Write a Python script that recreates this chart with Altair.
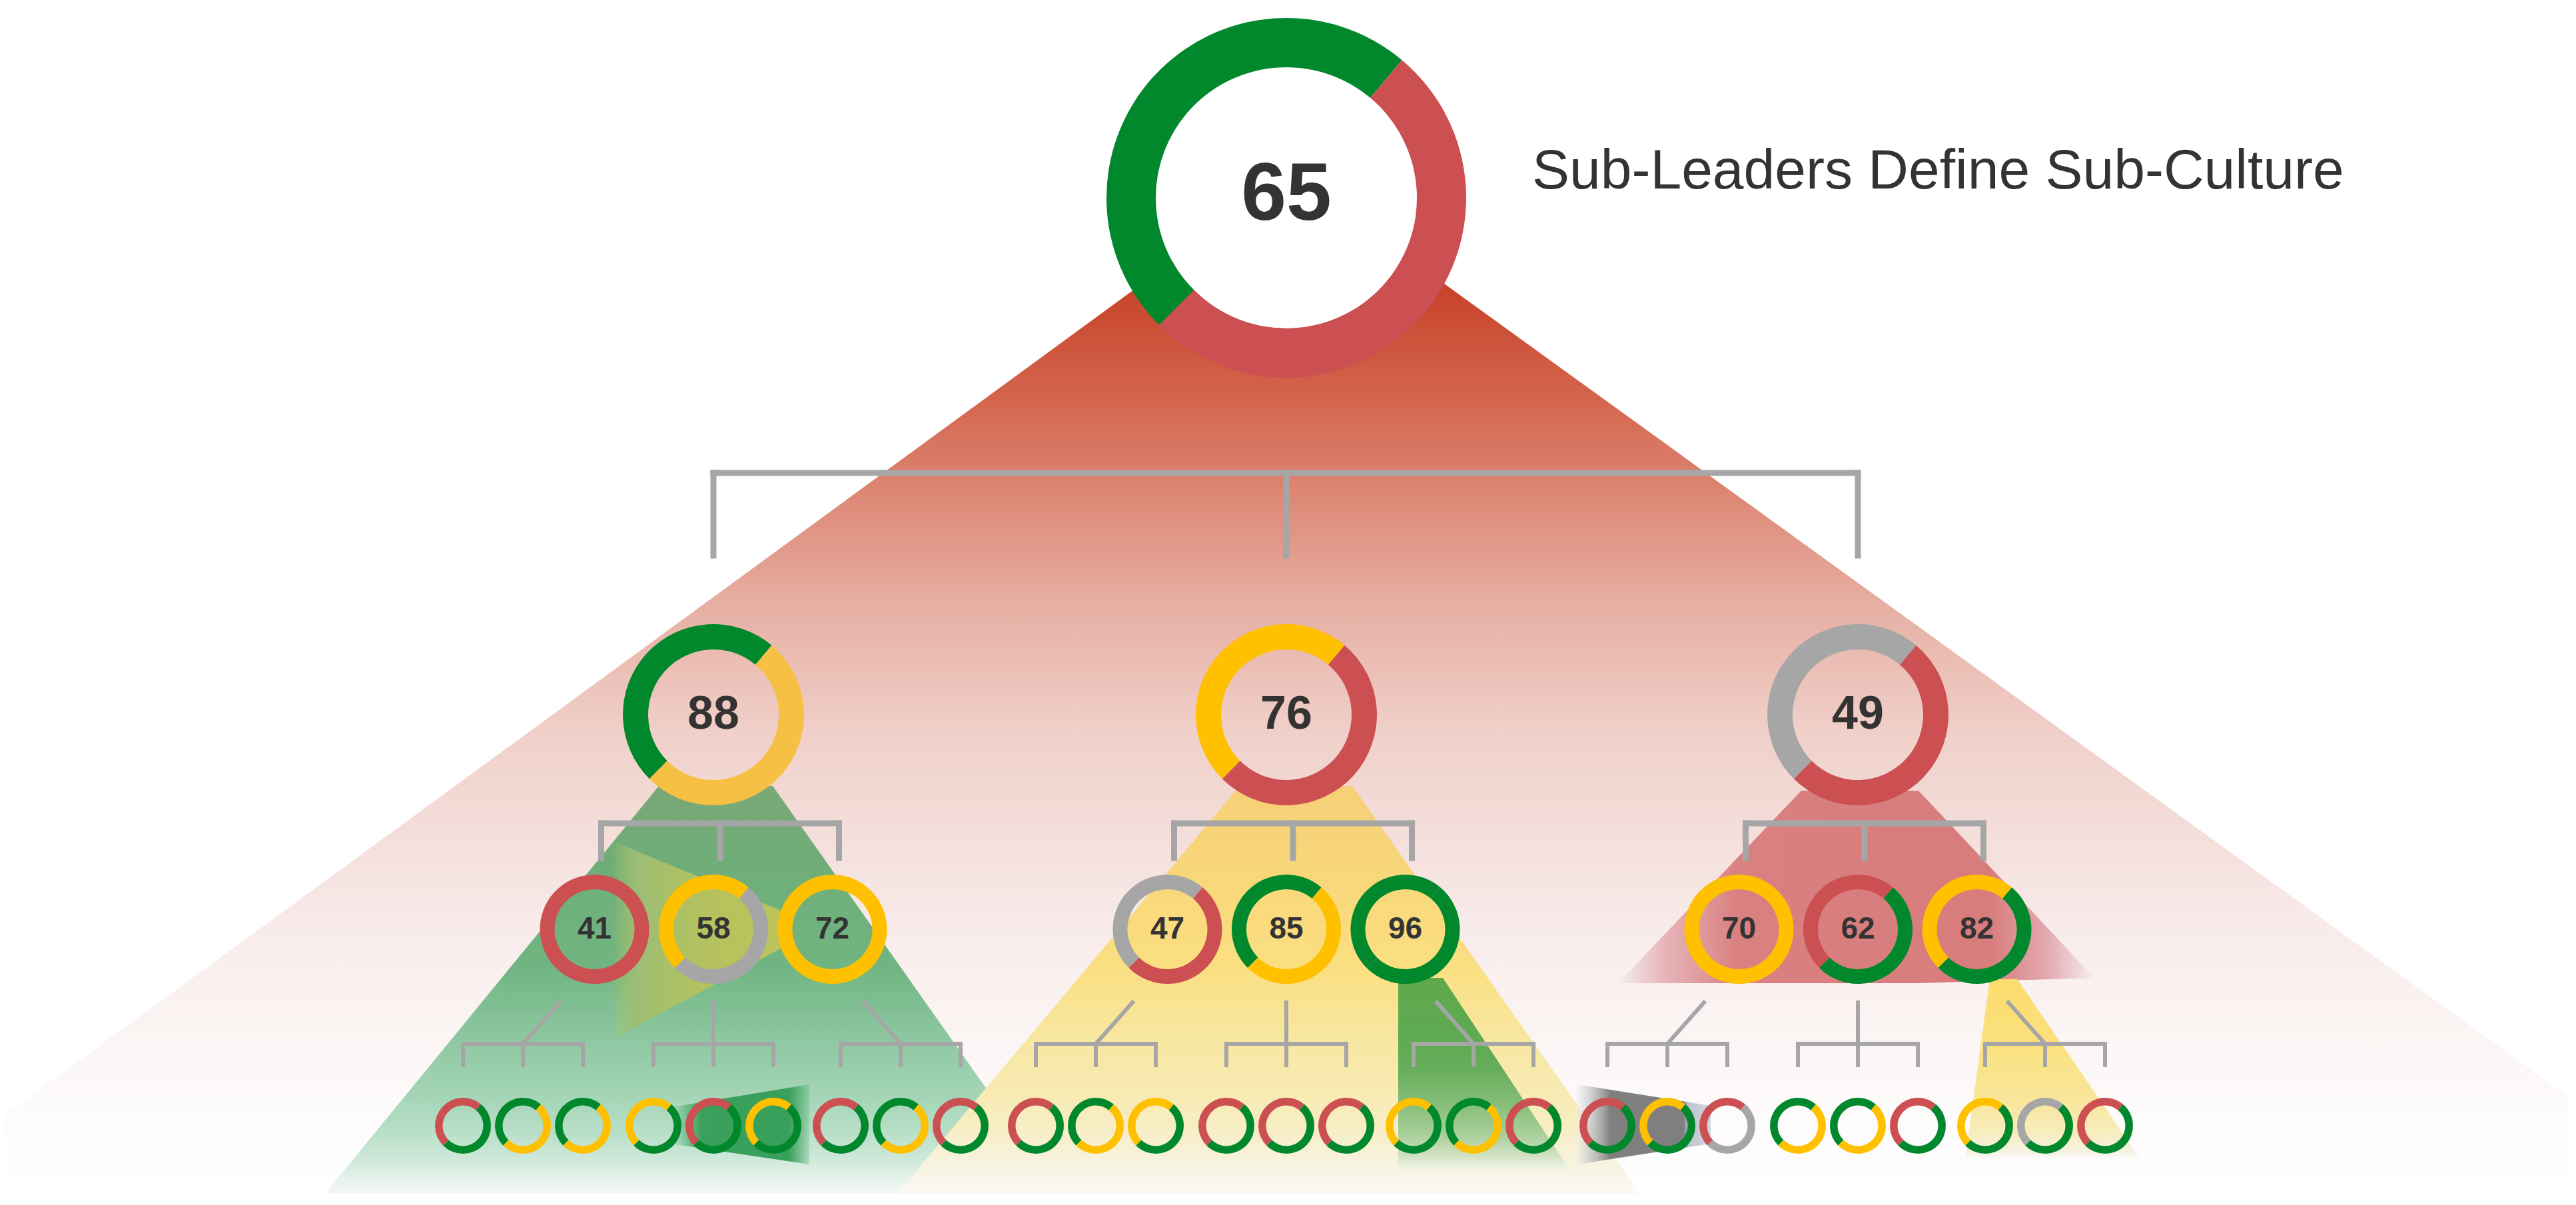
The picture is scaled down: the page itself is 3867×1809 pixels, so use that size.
import math
import altair as alt
import pandas as pd

# ---------------- data ----------------
TITLE = "Sub-Leaders Define Sub-Culture"

TOP_SCORE = 65
TOP_RING = ("green", "red")

LEADER_SCORES = [88, 76, 49]
LEADER_RINGS = [("green", "amber"), ("yellow", "red"), ("gray", "red")]

TEAM_SCORES = [41, 58, 72, 47, 85, 96, 70, 62, 82]
TEAM_RINGS = [
    ("red", "red"), ("yellow", "gray"), ("yellow", "yellow"),
    ("gray", "red"), ("green", "yellow"), ("green", "green"),
    ("yellow", "yellow"), ("red", "green"), ("yellow", "green"),
]

MEMBER_RINGS = [
    ("red", "green"), ("green", "yellow"), ("green", "yellow"),
    ("yellow", "green"), ("red", "green"), ("yellow", "green"),
    ("red", "green"), ("green", "yellow"), ("red", "green"),
    ("red", "green"), ("green", "yellow"), ("yellow", "green"),
    ("red", "green"), ("red", "green"), ("red", "green"),
    ("yellow", "green"), ("green", "yellow"), ("red", "green"),
    ("red", "green"), ("yellow", "green"), ("red", "gray"),
    ("green", "yellow"), ("green", "yellow"), ("red", "green"),
    ("yellow", "green"), ("gray", "green"), ("red", "green"),
]

PALETTE = {"green": "#02882c", "red": "#cc4f52", "yellow": "#ffc000",
           "amber": "#f6c045", "gray": "#a6a6a6"}

# ---------------- layout (page pixels) ----------------
W, H = 3848, 1784
X0, Y0 = 8, 8
TOP_C = (1931, 297)
TOP_R = (196, 270)
L2_X = [1071, 1931, 2789]
L2_Y = 1073
L2_R = (98, 136)
L3_OFF = [-178.5, 0, 178.5]
L3_Y = 1395
L3_R = (60, 82)
L4_GROUP_OFF = [-286, 0, 281]
L4_STEP = 90
L4_Y = 1690
L4_R = (30.5, 42)
SPLIT_A, SPLIT_B = math.radians(40), math.radians(225)
GRAY = "#a6a6a6"
INK = "#333333"

xs = alt.Scale(domain=[X0, X0 + W], nice=False, zero=False)
ys = alt.Scale(domain=[Y0, Y0 + H], nice=False, zero=False, reverse=True)


def ring(cx, cy, r, pair):
    return [
        dict(cx=cx, cy=cy, ri=r[0], ro=r[1], t0=SPLIT_B, t1=SPLIT_A + 2 * math.pi, col=PALETTE[pair[0]]),
        dict(cx=cx, cy=cy, ri=r[0], ro=r[1], t0=SPLIT_A, t1=SPLIT_B, col=PALETTE[pair[1]]),
    ]


arc_rows = [dict(cx=TOP_C[0], cy=TOP_C[1], ri=0, ro=TOP_R[0], t0=0, t1=2 * math.pi, col="#ffffff")]
arc_rows += ring(TOP_C[0], TOP_C[1], TOP_R, TOP_RING)
text_rows = [dict(tx=TOP_C[0], ty=TOP_C[1] - 4, label=str(TOP_SCORE), fs=122)]
rule_rows = []

# level-2 bracket
rule_rows.append(dict(x1=L2_X[0], y1=710, x2=L2_X[-1], y2=710, w=9))
for x in L2_X:
    rule_rows.append(dict(x1=x, y1=710, x2=x, y2=834, w=9))

for i, px in enumerate(L2_X):
    arc_rows += ring(px, L2_Y, L2_R, LEADER_RINGS[i])
    text_rows.append(dict(tx=px, ty=L2_Y, label=str(LEADER_SCORES[i]), fs=70))
    bx = px + 10
    rule_rows.append(dict(x1=bx + L3_OFF[0], y1=1236, x2=bx + L3_OFF[-1], y2=1236, w=9))
    for o in L3_OFF:
        rule_rows.append(dict(x1=bx + o, y1=1236, x2=bx + o, y2=1288, w=9))
    for j, o in enumerate(L3_OFF):
        k = i * 3 + j
        arc_rows += ring(px + o, L3_Y, L3_R, TEAM_RINGS[k])
        text_rows.append(dict(tx=px + o, ty=L3_Y, label=str(TEAM_SCORES[k]), fs=46))
    for j, go in enumerate(L4_GROUP_OFF):
        gc = px + go
        rule_rows.append(dict(x1=gc - L4_STEP, y1=1567, x2=gc + L4_STEP, y2=1567, w=6))
        for m in (-1, 0, 1):
            rule_rows.append(dict(x1=gc + m * L4_STEP, y1=1567, x2=gc + m * L4_STEP, y2=1599, w=6))
        lean = [55, 0, -55][j]
        rule_rows.append(dict(x1=gc, y1=1567, x2=gc + lean, y2=1505, w=6))
        for m in (-1, 0, 1):
            k = i * 9 + j * 3 + (m + 1)
            arc_rows += ring(gc + m * L4_STEP, L4_Y, L4_R, MEMBER_RINGS[k])


def grad(stops, horizontal=False):
    return alt.LinearGradient(
        gradient="linear",
        stops=[alt.GradientStop(color=c, offset=o) for o, c in stops],
        x1=0, y1=0, x2=1 if horizontal else 0, y2=0 if horizontal else 1,
    )


BEAMS = [
    # spotlight of the top leader
    ([(-154, 1792, 1792), (1940, 261, 1792), (4057, 1792, 1792)], False,
     [(0, "#c23c22"), (0.114, "#c8442b"), (0.221, "#d4654d"), (0.417, "#e6ada1"),
      (0.548, "#f0d0c9"), (0.744, "#f8eceb"), (0.907, "#fdfafa"), (1, "#ffffff")]),
    # green spotlight (88)
    ([(488, 1792, 1792), (989, 1180, 1792), (1160, 1180, 1792), (1592, 1792, 1792)], False,
     [(0, "#7aa876"), (0.18, "#6fad78"), (0.44, "#70b581"),
      (0.63, "#8fc8a2"), (0.77, "#a6d6b8"), (0.85, "#b9dfc8"), (0.92, "#d0e9db"),
      (0.96, "#e5f2eb"), (1, "#f3f8f5")]),
    # yellow spotlight (76)
    ([(1347, 1792, 1792), (1861, 1180, 1792), (2030, 1180, 1792), (2462, 1792, 1792)], False,
     [(0, "#f6cf77"), (0.2, "#f8d679"), (0.44, "#fadf81"),
      (0.62, "#f8e7a0"), (0.77, "#f8ebb5"), (0.85, "#f7eec8"), (0.93, "#f7f3e0"), (1, "#fbfaf5")]),
    # red spotlight (49)
    ([(2429, 1476, 1476), (2704, 1187, 1476), (2880, 1187, 1476), (3144, 1468, 1468)], True,
     [(0, "#f5eef0"), (0.1, "#e6b4b8"), (0.25, "#d98080"), (0.78, "#d87c7c"),
      (0.9, "#e2a9b0"), (1, "#f5eef0")]),
    # yellow-green beam (58)
    ([(920, 1263, 1560), (1172, 1367, 1424)], True,
     [(0, "rgba(184,194,92,0)"), (0.14, "#9cbd76"), (0.3, "#a6c06a"), (0.55, "#b4c25e"), (1, "#bdc35a")]),
    # green beam (96)
    ([(2099, 1468, 1765), (2166, 1468, 1765), (2362, 1765, 1765)], False,
     [(0, "#60a94b"), (0.3, "#5eaa52"), (0.46, "#66ad5a"), (0.62, "#82bc75"),
      (0.79, "#a8cf9a"), (0.89, "#cde0be"), (0.95, "#eaf0df"), (1, "rgba(250,250,245,0)")]),
    # yellow beam (82)
    ([(2950, 1740, 1740), (2987, 1470, 1740), (3028, 1470, 1740), (3213, 1740, 1740)], False,
     [(0, "#fbdc6e"), (0.3, "#fbe07a"), (0.67, "#f9e69a"), (0.85, "#f7ecbd"),
      (0.96, "#f5f2e2"), (1, "rgba(248,248,245,0.5)")]),
    # small green beam in the bottom row
    ([(1008, 1662, 1717), (1215, 1628, 1748)], True,
     [(0, "rgba(56,160,90,0)"), (0.22, "#3aa05c"), (0.85, "#37a05a"), (1, "rgba(56,160,90,0.2)")]),
    # small gray beam in the bottom row
    ([(2367, 1628, 1748), (2568, 1660, 1717)], True,
     [(0, "rgba(236,238,242,0.5)"), (0.25, "#808080"), (0.8, "#7f7f7f"), (0.83, "#c0c4cf"), (1, "#d2d5de")]),
]

layers = []
for pts, horiz, stops in BEAMS:
    df = pd.DataFrame(pts, columns=["ax", "ay", "ay2"])
    layers.append(
        alt.Chart(df).mark_area(color=grad(stops, horiz), clip=True, interpolate="linear").encode(
            x=alt.X("ax:Q", scale=xs, axis=None),
            y=alt.Y("ay:Q", scale=ys, axis=None),
            y2="ay2:Q",
        )
    )

layers.append(
    alt.Chart(pd.DataFrame(rule_rows)).mark_rule(color=GRAY, strokeCap="square").encode(
        x=alt.X("x1:Q", scale=xs, axis=None),
        y=alt.Y("y1:Q", scale=ys, axis=None),
        x2="x2:Q",
        y2="y2:Q",
        strokeWidth=alt.StrokeWidth("w:Q", scale=None),
    )
)

layers.append(
    alt.Chart(pd.DataFrame(arc_rows)).mark_arc().encode(
        x=alt.X("cx:Q", scale=xs, axis=None),
        y=alt.Y("cy:Q", scale=ys, axis=None),
        theta=alt.Theta("t0:Q", scale=None, stack=None),
        theta2="t1:Q",
        radius=alt.Radius("ro:Q", scale=None, stack=None),
        radius2="ri:Q",
        color=alt.Color("col:N", scale=None),
    )
)

layers.append(
    alt.Chart(pd.DataFrame(text_rows)).mark_text(
        font="Liberation Sans", fontWeight="bold", color=INK, align="center", baseline="middle"
    ).encode(
        x=alt.X("tx:Q", scale=xs, axis=None),
        y=alt.Y("ty:Q", scale=ys, axis=None),
        text="label:N",
        size=alt.Size("fs:Q", scale=None),
    )
)

layers.append(
    alt.Chart(pd.DataFrame({"tx": [2300], "ty": [283], "label": [TITLE]})).mark_text(
        font="Liberation Sans", fontSize=84, color=INK, align="left", baseline="alphabetic"
    ).encode(
        x=alt.X("tx:Q", scale=xs, axis=None),
        y=alt.Y("ty:Q", scale=ys, axis=None),
        text="label:N",
    )
)

chart = alt.layer(*layers).properties(
    width=W, height=H, padding=0,
    autosize=alt.AutoSizeParams(type="none", contains="padding"),
).configure_view(strokeWidth=0)

chart.save("out.html", embed_options={"renderer": "svg", "actions": False})
